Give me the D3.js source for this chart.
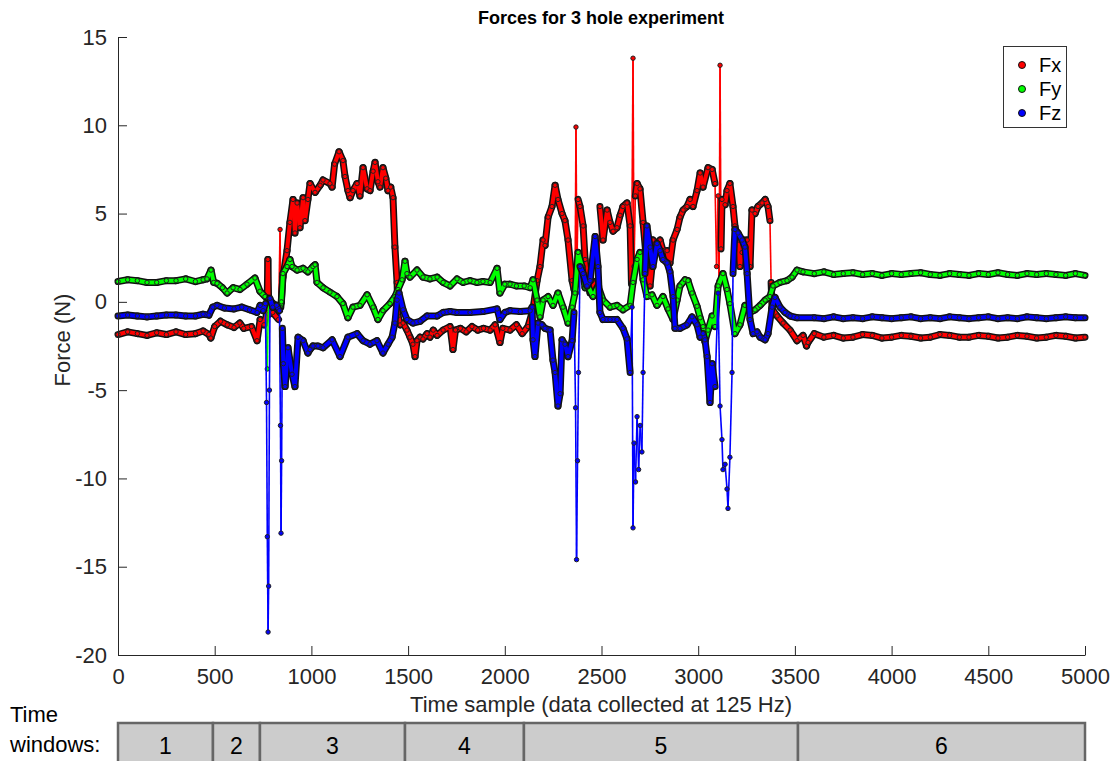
<!DOCTYPE html>
<html><head><meta charset="utf-8">
<script src="https://cdn.jsdelivr.net/npm/d3@7"></script>
<style>
body{margin:0;background:#fff;}
svg{display:block;font-family:"Liberation Sans",Arial,sans-serif;}
</style></head>
<body><svg id="c" width="1117" height="761"></svg>
<script>
// ---- data ----
const fxT = [0,50,100,150,200,250,300,350,400,440,470,480,500,530,565,600,630,650,690,719,735,755,770,775,780,800,830,838,842,853,874,889,905,915,926,941,957,967,982,993,1019,1045,1060,1096,1107,1120,1143,1163,1174,1189,1200,1215,1236,1251,1267,1288,1303,1319,1329,1344,1355,1370,1385,1396,1410,1422,1432,1443,1448,1460,1474,1494,1510,1525,1536,1546,1562,1577,1598,1613,1630,1650,1681,1717,1732,1745,1770,1800,1830,1860,1890,1924,1950,1975,1990,2027,2060,2090,2120,2141,2146,2167,2182,2198,2208,2224,2244,2260,2275,2296,2311,2327,2348,2358,2363,2368,2373,2379,2389,2405,2415,2430,2441,2451,2470,2485,2492,2508,2529,2544,2560,2580,2596,2611,2632,2648,2655,2663,2668,2675,2684,2699,2715,2735,2751,2761,2766,2787,2803,2818,2839,2854,2870,2891,2906,2922,2942,2958,2973,2994,3010,3025,3051,3072,3087,3095,3103,3108,3113,3118,3123,3139,3149,3164,3180,3190,3206,3216,3227,3232,3253,3268,3278,3294,3309,3330,3346,3361,3371,3377,3382,3408,3439,3475,3511,3542,3560,3568,3600,3650,3700,3750,3800,3850,3900,3950,4000,4050,4100,4150,4200,4250,4300,4350,4400,4450,4500,4550,4600,4650,4700,4750,4800,4850,4900,4950,5000];
const fxV = [-1.85,-1.7,-1.8,-1.9,-1.75,-1.85,-1.7,-1.85,-1.8,-1.65,-1.85,-2.05,-1.4,-1.1,-1.3,-1.45,-1.2,-1.5,-1.4,-2.2,-1.0,-1.3,-0.6,2.4,-0.7,-0.6,-1.0,4.1,-0.3,1.4,2.9,4.5,5.8,3.9,5.6,4.2,5.9,4.6,5.8,6.7,6.2,6.6,6.9,6.7,6.5,7.8,8.5,8.0,7.1,6.3,5.9,6.3,6.7,6.0,7.6,6.4,6.3,7.4,7.9,6.8,6.5,7.6,7.0,6.3,6.5,5.9,3.1,1.1,-0.8,-1.3,-1.2,-1.6,-2.0,-2.4,-3.1,-2.2,-2.0,-2.1,-1.8,-2.0,-1.6,-1.9,-1.6,-1.4,-2.7,-1.6,-1.5,-1.7,-1.4,-1.6,-1.5,-1.6,-1.3,-2.3,-1.5,-1.6,-1.3,-1.8,-1.4,-0.6,-0.4,1.2,2.0,3.5,3.2,4.8,5.4,6.6,5.8,5.0,4.6,3.5,1.2,0.7,0.5,9.9,2.0,5.8,5.4,4.3,2.4,0.9,0.5,1.2,0.8,0.9,5.4,3.5,5.2,4.5,4.0,4.2,4.9,5.4,5.6,4.3,1.0,13.8,2.0,6.0,6.7,6.4,4.5,2.0,0.9,2.0,3.5,3.3,3.5,2.9,2.9,2.2,3.5,4.1,4.8,5.2,5.4,5.8,5.4,6.3,7.3,6.5,7.6,7.5,6.7,2.0,6.0,1.2,13.4,3.0,5.8,5.5,6.3,6.7,5.4,4.3,3.5,2.0,2.8,3.5,3.5,2.0,5.2,5.0,5.4,5.6,5.8,5.4,4.6,1.1,-0.4,-0.8,-1.2,-1.6,-2.2,-1.9,-2.5,-2.3,-1.8,-2.0,-1.9,-2.05,-2.0,-1.85,-1.9,-2.05,-2.0,-1.9,-1.95,-2.05,-2.0,-1.85,-1.9,-2.0,-2.0,-1.9,-1.95,-2.05,-2.0,-1.9,-1.95,-2.05,-2.0,-1.9,-1.95,-2.05,-2.0];

const fyT = [0,50,100,150,200,250,300,350,400,440,460,481,495,512,540,564,595,631,667,708,734,760,772,778,802,838,845,853,874,889,900,926,957,982,1008,1019,1029,1060,1096,1132,1163,1189,1215,1251,1288,1319,1344,1370,1406,1432,1448,1469,1484,1494,1510,1546,1577,1613,1650,1681,1717,1753,1784,1820,1856,1887,1924,1960,1975,2000,2027,2060,2100,2131,2146,2167,2182,2198,2224,2249,2275,2301,2327,2348,2363,2379,2399,2415,2430,2456,2482,2508,2544,2580,2611,2648,2663,2684,2699,2715,2735,2761,2787,2818,2844,2870,2891,2906,2932,2947,2968,2994,3010,3025,3035,3051,3072,3087,3103,3128,3149,3164,3190,3216,3242,3268,3294,3320,3346,3371,3387,3423,3459,3485,3511,3542,3600,3650,3700,3750,3800,3850,3900,3950,4000,4050,4100,4150,4200,4250,4300,4350,4400,4450,4500,4550,4600,4650,4700,4750,4800,4850,4900,4950,5000];
const fyV = [1.15,1.25,1.2,1.1,1.1,1.2,1.2,1.3,1.15,1.25,1.3,1.8,1.1,1.05,0.8,0.5,0.8,0.7,1.0,1.35,0.6,0.3,-3.8,0.2,-0.1,-0.3,0.0,1.6,2.0,2.4,2.0,1.8,1.9,1.7,2.0,2.1,1.1,0.8,0.55,0.3,-0.1,-0.9,-0.3,-0.2,0.4,-0.3,-1.0,-0.5,-0.1,0.3,0.7,1.25,2.3,1.6,1.4,1.8,1.4,1.3,1.4,1.1,0.9,1.3,1.1,1.2,1.1,1.15,1.1,1.9,0.5,1.0,1.0,0.9,0.9,0.8,1.25,0.1,-0.85,0.1,0.3,-0.2,0.5,-0.3,-1.2,-0.3,0.5,2.8,2.0,0.8,0.9,0.3,0.9,0.1,-0.3,-0.2,-0.45,-0.2,1.1,2.4,2.8,1.25,0.3,0.4,-0.2,0.3,-0.4,-1.0,0.1,0.9,1.25,1.2,0.5,-0.25,-0.9,-1.4,-2.25,-1.6,-0.8,-1.4,0.9,1.6,0.7,-0.1,-1.8,-1.3,-0.2,-0.6,-0.45,-0.2,0.1,0.3,0.9,1.1,1.2,1.4,1.8,1.7,1.6,1.7,1.55,1.6,1.65,1.55,1.6,1.5,1.6,1.55,1.6,1.65,1.55,1.5,1.6,1.55,1.5,1.6,1.55,1.65,1.55,1.5,1.6,1.55,1.6,1.55,1.5,1.6,1.5];

const fzT = [0,50,100,150,200,250,300,350,400,440,470,490,512,550,600,640,680,719,735,750,762,768,772,776,779,783,786,800,820,835,840,843,846,850,855,864,879,900,915,931,957,982,993,1008,1034,1060,1107,1148,1189,1236,1267,1303,1339,1370,1396,1417,1432,1443,1453,1474,1494,1525,1562,1598,1650,1681,1717,1753,1820,1887,1960,1975,2000,2027,2080,2131,2141,2146,2156,2172,2192,2208,2234,2249,2260,2275,2286,2296,2311,2327,2348,2358,2366,2371,2376,2381,2389,2405,2425,2441,2467,2482,2492,2508,2544,2580,2611,2632,2648,2658,2663,2668,2676,2684,2692,2700,2709,2715,2725,2735,2751,2766,2787,2803,2818,2839,2854,2870,2880,2906,2942,2968,2994,3010,3025,3035,3046,3061,3072,3087,3103,3113,3123,3128,3139,3149,3154,3164,3175,3180,3190,3206,3227,3242,3253,3268,3284,3304,3320,3346,3361,3382,3397,3423,3449,3475,3511,3600,3650,3700,3750,3800,3850,3900,3950,4000,4050,4100,4150,4200,4250,4300,4350,4400,4450,4500,4550,4600,4650,4700,4750,4800,4850,4900,4950,5000];
const fzV = [-0.8,-0.75,-0.8,-0.85,-0.8,-0.75,-0.75,-0.8,-0.8,-0.7,-0.75,-0.3,-0.2,-0.35,-0.4,-0.3,-0.45,-0.6,-0.2,-0.5,-0.1,-5.7,-13.3,-18.7,-16.1,-5.0,0.2,-0.3,-0.2,-0.5,-7.0,-13.1,-9.0,-1.5,-3.5,-4.8,-2.6,-4.1,-4.8,-2.0,-2.2,-2.9,-2.7,-2.5,-2.5,-2.6,-2.15,-3.1,-2.0,-1.8,-2.2,-2.4,-2.2,-2.9,-2.4,-2.0,-1.2,0.1,0.5,-0.45,-1.0,-1.2,-1.1,-0.8,-0.8,-0.6,-0.55,-0.6,-0.6,-0.55,-0.4,-1.0,-0.6,-0.5,-0.55,-0.5,-0.3,-2.15,-3.1,-1.2,-1.3,-1.5,-1.6,-3.3,-4.0,-5.9,-5.2,-2.15,-2.4,-3.1,-2.2,-0.6,-6.0,-14.6,-9.0,-4.0,2.0,1.6,0.9,1.2,3.7,2.0,-0.6,-1.0,-1.0,-1.0,-1.5,-2.1,-4.0,-0.3,-12.8,-8.0,-10.2,-6.5,-9.5,-7.0,-8.5,-4.0,1.6,4.3,3.1,2.0,3.3,2.9,2.4,2.2,1.7,0.3,-1.5,-1.5,-1.3,-0.85,-1.3,-2.0,-1.8,-2.15,-3.1,-5.7,-3.5,-4.8,0.5,-5.9,-7.8,-9.5,-9.2,-10.6,-11.7,-8.8,-4.0,1.6,4.1,3.9,3.5,3.1,1.6,-1.0,-1.8,-1.7,-2.0,-2.15,-1.8,-0.3,0.25,-0.3,-0.6,-0.8,-0.9,-0.9,-0.95,-0.85,-0.95,-0.9,-0.95,-0.85,-0.9,-0.95,-0.9,-0.85,-0.95,-0.9,-0.95,-0.85,-0.9,-0.95,-0.9,-0.85,-0.95,-0.9,-0.95,-0.85,-0.9,-0.95,-0.9,-0.85,-0.9,-0.9];

const seriesNames = ["Fx","Fy","Fz"];
const seriesColors = ["#ff0000","#00ff00","#0000ff"];
const xTicks = [0,500,1000,1500,2000,2500,3000,3500,4000,4500,5000];
const yTicks = [-20,-15,-10,-5,0,5,10,15];
const windowEdges = [0,491,734,1484,2099,3516,5000];
const windowLabels = ["1","2","3","4","5","6"];

// ---- drawing ----
const svg = d3.select("#c");
const x = d3.scaleLinear().domain([0,5000]).range([118,1085]);
const y = d3.scaleLinear().domain([-20,15]).range([655,37]);
const axisColor = "#262626";
const FONT = "'Liberation Sans',Arial,sans-serif";

const series = [
  {name:seriesNames[0], color:seriesColors[0], pts:fxT.map((t,i)=>[t,fxV[i]])},
  {name:seriesNames[1], color:seriesColors[1], pts:fyT.map((t,i)=>[t,fyV[i]])},
  {name:seriesNames[2], color:seriesColors[2], pts:fzT.map((t,i)=>[t,fzV[i]])}
];
const line = d3.line().x(d=>x(d[0])).y(d=>y(d[1]));

series.forEach(s=>{
  const g = svg.append("g");
  // slow segments drawn as a dense noisy band, fast spikes as thin lines
  const segs = d3.pairs(s.pts);
  const extreme = v => v > 8.8 || v < -6.2;
  const isFast = p => Math.abs(y(p[1][1]) - y(p[0][1])) > 60 || extreme(p[0][1]) || extreme(p[1][1]);
  const slow = segs.filter(p=>!isFast(p)), fast = segs.filter(isFast);
  g.selectAll("path.fast").data(fast).enter().append("path").attr("class","fast")
    .attr("d",p=>line(p)).attr("fill","none").attr("stroke",s.color).attr("stroke-width",1.6);
  g.selectAll("path.slowb").data(slow).enter().append("path").attr("class","slowb")
    .attr("d",p=>line(p)).attr("fill","none").attr("stroke","#111").attr("stroke-width",7).attr("stroke-linecap","round");
  g.selectAll("path.slowc").data(slow).enter().append("path").attr("class","slowc")
    .attr("d",p=>line(p)).attr("fill","none").attr("stroke",s.color).attr("stroke-width",4).attr("stroke-linecap","round");
  g.selectAll("circle").data(s.pts).enter().append("circle")
    .attr("cx",d=>x(d[0])).attr("cy",d=>y(d[1])).attr("r",2.2)
    .attr("fill",s.color).attr("stroke","#222").attr("stroke-width",1);
});

// axes
const xa = svg.append("g").attr("transform","translate(0,655)")
  .call(d3.axisBottom(x).tickValues(xTicks).tickSizeInner(-9).tickSizeOuter(0).tickPadding(13).tickFormat(d=>String(d)));
const ya = svg.append("g").attr("transform","translate(118,0)")
  .call(d3.axisLeft(y).tickValues(yTicks).tickSizeInner(-9).tickSizeOuter(0).tickPadding(11).tickFormat(d=>String(d)));
[xa,ya].forEach(a=>{
  a.select(".domain").attr("stroke",axisColor).attr("stroke-width",1);
  a.selectAll(".tick line").attr("stroke",axisColor);
  a.selectAll(".tick text").attr("fill",axisColor).style("font-size","22px").style("font-family",FONT);
});

// titles
svg.append("text").attr("x",601).attr("y",24).attr("text-anchor","middle")
  .style("font-size","18px").style("font-weight","bold").attr("fill","#000").text("Forces for 3 hole experiment");
svg.append("text").attr("x",601).attr("y",712).attr("text-anchor","middle")
  .style("font-size","22px").attr("fill",axisColor).text("Time sample (data collected at 125 Hz)");
svg.append("text").attr("transform","translate(70,340) rotate(-90)").attr("text-anchor","middle")
  .style("font-size","22px").attr("fill",axisColor).text("Force (N)");

// legend
const lg = svg.append("g");
lg.append("rect").attr("x",1003.5).attr("y",46.5).attr("width",63).attr("height",81)
  .attr("fill","#fff").attr("stroke","#333").attr("stroke-width",1);
series.forEach((s,i)=>{
  const cy = 65 + i*24;
  lg.append("circle").attr("cx",1022).attr("cy",cy).attr("r",3.5).attr("fill",s.color).attr("stroke","#111").attr("stroke-width",1);
  lg.append("text").attr("x",1039).attr("y",cy+7).style("font-size","20px").attr("fill","#000").text(s.name);
});

// time windows
svg.append("text").attr("x",10).attr("y",722).style("font-size","22px").attr("fill","#000").text("Time");
svg.append("text").attr("x",10).attr("y",752).style("font-size","22px").attr("fill","#000").text("windows:");
const wg = svg.append("g");
windowLabels.forEach((lab,i)=>{
  const x0 = x(windowEdges[i]), x1 = x(windowEdges[i+1]);
  wg.append("rect").attr("x",x0).attr("y",723).attr("width",x1-x0).attr("height",45)
    .attr("fill","#cccccc").attr("stroke","#666").attr("stroke-width",2.5);
  wg.append("text").attr("x",(x0+x1)/2).attr("y",754).attr("text-anchor","middle")
    .style("font-size","23px").attr("fill","#000").text(lab);
});
</script></body></html>
